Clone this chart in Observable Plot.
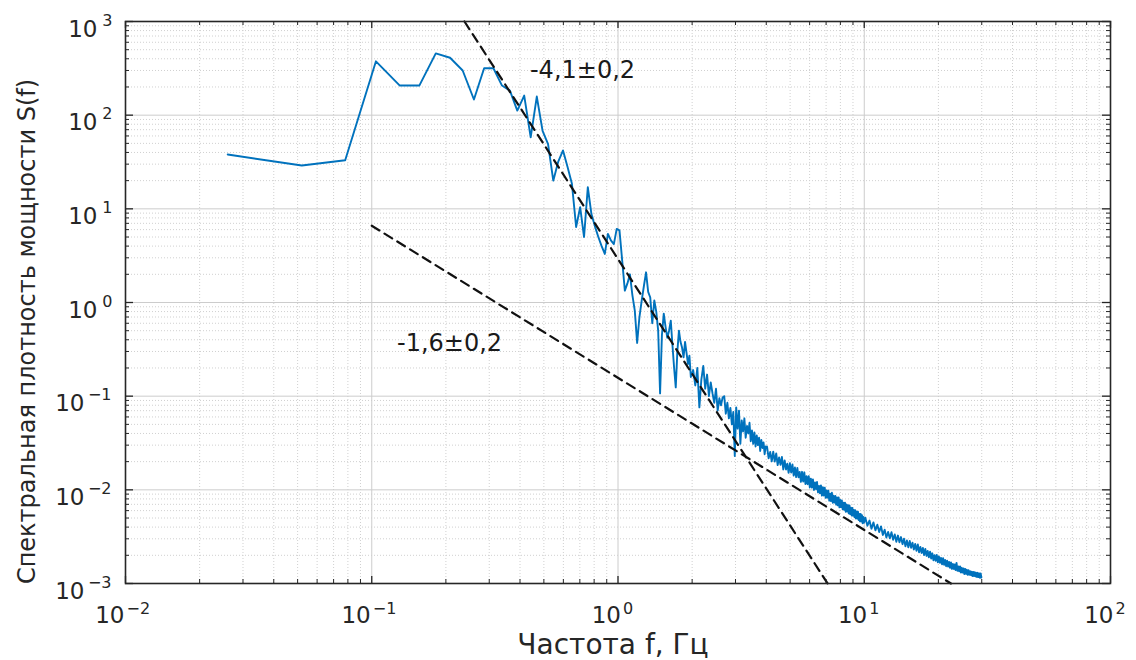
<!DOCTYPE html>
<html><head><meta charset="utf-8">
<script src="https://cdn.jsdelivr.net/npm/d3@7"></script>
<script src="https://cdn.jsdelivr.net/npm/@observablehq/plot@0.6"></script>
<style>
body{margin:0;background:#fff;}
#chart{position:absolute;left:0;top:0;}
</style></head><body><div id="chart"></div>
<script>
// ---- data (frequency, Hz) ----
const freq = [
0.026,0.052,0.078,0.104,0.130,0.156,0.182,0.208,0.234,0.260,0.286,0.312,
0.338,0.364,0.390,0.416,0.442,0.468,0.494,0.520,0.546,0.572,0.598,0.624,0.650,0.676,0.702,0.728,0.754,0.780,0.806,0.832,0.858,0.884,0.910,0.936,0.962,0.988,1.014,1.040,
1.066,1.092,1.118,1.144,1.170,1.196,1.222,1.248,1.274,1.300,1.326,1.352,1.378,1.404,1.430,1.456,1.482,1.508,1.534,1.560,1.586,1.612,1.638,1.664,1.690,1.716,1.742,1.768,1.794,1.820,1.846,1.872,1.898,1.924,1.950,1.976,
2.02,2.06,2.10,2.14,2.18,2.22,2.26,2.30,2.34,2.38,2.42,2.46,2.50,2.54,2.58,2.62,2.66,2.70,2.74,2.78,2.82,2.86,2.90,2.94,2.98,3.02,3.06,3.10,3.14,3.18,3.22,3.26,3.30,3.34,3.38,3.42,3.46,3.50,3.54,3.58,3.62,3.66,3.70,3.74,3.78,3.82,3.86,3.90,3.94,3.98,
4.03,4.09,4.15,4.21,4.27,4.33,4.39,4.45,4.51,4.57,4.63,4.69,4.75,4.81,4.87,4.93,4.99,5.05,5.11,5.17,
5.23,5.29,5.35,5.41,5.47,5.53,5.59,5.65,5.71,5.77,5.83,5.89,5.95,6.01,6.07,6.13,6.19,6.25,6.31,6.37,
6.43,6.49,6.55,6.61,6.67,6.73,6.79,6.85,6.91,6.97,7.03,7.09,7.15,7.21,7.27,7.33,7.39,7.45,7.51,7.57,
7.63,7.69,7.75,7.81,7.87,7.93,7.99,8.05,8.11,8.17,8.23,8.29,8.35,8.41,8.47,8.53,8.59,8.65,8.71,8.77,
8.83,8.89,8.95,9.01,9.07,9.13,9.19,9.25,9.31,9.37,9.43,9.49,9.55,9.61,9.67,9.73,9.79,9.85,9.91,9.97,
10.1,10.3,10.5,10.7,10.9,11.1,11.3,11.5,11.7,11.9,12.1,12.3,12.5,12.7,12.9,13.1,13.3,13.5,13.7,13.9,
14.1,14.3,14.5,14.7,14.9,15.1,15.3,15.5,15.7,15.9,16.1,16.3,16.5,16.7,16.9,17.1,17.3,17.5,17.7,17.9,
18.1,18.3,18.5,18.7,18.9,19.1,19.3,19.5,19.7,19.9,20.1,20.3,20.5,20.7,20.9,21.1,21.3,21.5,21.7,21.9,
22.1,22.3,22.5,22.7,22.9,23.1,23.3,23.5,23.7,23.9,24.1,24.3,24.5,24.7,24.9,25.1,25.3,25.5,25.7,25.9,
26.1,26.3,26.5,26.7,26.9,27.1,27.3,27.5,27.7,27.9,28.1,28.3,28.5,28.7,28.9,29.1,29.3,29.5,29.7,29.9
];
// ---- data (power spectral density S(f)) ----
const psd = [
38,29,33,376,207,207,457,410,300,147,317,317,
207,183,112,162,58,158,68,49,20,32,42,28,18.5,6.4,10.4,5.0,17,8.8,6.5,5.0,4.0,3.3,5.4,4.6,4.2,6.1,5.9,2.8,
1.34,1.6,2.0,1.2,0.82,0.37,0.7,1.05,1.5,2.1,1.3,1.13,0.6,1.05,0.8,0.5,0.107,0.45,0.76,0.55,0.42,0.5,0.64,0.35,0.2,0.124,0.3,0.5,0.38,0.33,0.26,0.38,0.29,0.22,0.27,0.16,
0.19,0.13,0.20,0.076,0.15,0.21,0.12,0.17,0.10,0.14,0.107,0.085,0.12,0.07,0.095,0.08,0.097,0.10,0.065,0.085,0.058,0.075,0.05,0.068,0.023,0.076,0.045,0.07,0.031,0.055,0.042,0.058,0.036,0.048,0.04,0.052,0.033,0.043,0.031,0.041,0.029,0.038,0.03,0.036,0.026,0.034,0.028,0.032,0.024,0.029,
0.0288,0.0217,0.0254,0.0201,0.0255,0.0200,0.0245,0.0184,0.0222,0.0185,0.0225,0.0165,0.0206,0.0165,0.0190,0.0152,0.0192,0.0153,0.0187,0.0142,
0.0173,0.0137,0.0171,0.0136,0.0155,0.01218,0.01557,0.01227,0.01538,0.01154,0.01401,0.01148,0.01401,0.01059,0.01315,0.01055,0.0129,0.00996,0.01202,0.01016,
0.01212,0.0094,0.01101,0.00919,0.01114,0.00869,0.01069,0.0087,0.01054,0.00823,0.00983,0.00825,0.0098,0.00766,0.00907,0.00759,0.00931,0.00729,0.00863,0.00731,
0.00861,0.00695,0.00831,0.00683,0.0083,0.0065,0.00778,0.00654,0.00771,0.00622,0.00729,0.00612,0.0073,0.00583,0.00699,0.00587,0.00687,0.0056,0.00682,0.00551,
0.00646,0.00532,0.00642,0.00531,0.0061,0.00512,0.00606,0.00495,0.00586,0.00494,0.00583,0.00477,0.00554,0.00461,0.00552,0.0046,0.00535,0.0044,0.00513,0.00445,
0.00504,0.00414,0.0047,0.00385,0.00449,0.00369,0.00424,0.00355,0.00407,0.0033,0.00375,0.0031,0.00355,0.00304,0.00353,0.00293,0.00334,0.00279,0.00325,0.00275,
0.00313,0.00263,0.00301,0.00249,0.00288,0.00244,0.00285,0.00241,0.00273,0.00231,0.00264,0.00224,0.00261,0.00215,0.00246,0.00212,0.0024,0.00201,0.00234,0.00197,
0.00223,0.0019,0.00219,0.00185,0.0021,0.00177,0.00201,0.00175,0.00202,0.00168,0.00194,0.00166,0.00188,0.0016,0.00186,0.00158,0.00178,0.00153,0.00175,0.00152,
0.0017,0.00147,0.00168,0.00143,0.00162,0.00143,0.0016,0.00139,0.00166,0.00137,0.00152,0.00135,0.00152,0.00131,0.00147,0.00131,0.00145,0.00126,0.00143,0.00127,
0.0014,0.00124,0.00139,0.00124,0.00135,0.00123,0.00134,0.0012,0.00133,0.0012,0.00132,0.00119,0.0013,0.00117,0.0013,0.00117,0.00128,0.00115,0.00128,0.00116
];
// ---- fitted power laws (end points) ----
const fitSteepF = [0.238, 7.1];
const fitSteepS = [1000, 0.001];
const fitShallowF = [0.1, 22.5];
const fitShallowS = [6.6, 0.001];
// ---- annotations ----
const annoF = [0.439, 0.1266];
const annoS = [300, 0.37];
const annoText = ["-4,1±0,2", "-1,6±0,2"];
// ---- axes ----
const xDecades = [0.01, 0.1, 1, 10, 100];
const yDecades = [0.001, 0.01, 0.1, 1, 10, 100, 1000];
const minorMult = [2, 3, 4, 5, 6, 7, 8, 9];
const xLabel = "Частота f, Гц";
const yLabel = "Спектральная плотность мощности S(f)";

const W = 1136, H = 660, mL = 125, mR = 26, mT = 21, mB = 77;
const innerW = W - mL - mR, innerH = H - mT - mB;
const ink = "#262626";
const font = "'DejaVu Sans', sans-serif";

const minorX = xDecades.slice(0, -1).flatMap(d => minorMult.map(m => d * m));
const minorY = yDecades.slice(0, -1).flatMap(d => minorMult.map(m => d * m));
const spectrum = freq.map((f, i) => ({f, s: psd[i]}));
const steep = fitSteepF.map((f, i) => ({f, s: fitSteepS[i]}));
const shallow = fitShallowF.map((f, i) => ({f, s: fitShallowS[i]}));
const annos = annoF.map((f, i) => ({f, s: annoS[i], label: annoText[i]}));
const expo = d => { const e = Math.round(Math.log10(d)); return e < 0 ? "\u2212" + (-e) : String(e); };
const neg = a => a.filter(d => d < 1), pos = a => a.filter(d => d >= 1);

const chart = Plot.plot({
  width: W, height: H, marginLeft: mL, marginRight: mR, marginTop: mT, marginBottom: mB,
  x: {type: "log", domain: [0.01, 100], axis: null},
  y: {type: "log", domain: [0.001, 1000], axis: null},
  style: {fontFamily: font, background: "#fff", color: ink},
  marks: [
    Plot.ruleX(minorX, {x: d => d, stroke: "#d0d0d0", strokeDasharray: "1,2"}),
    Plot.ruleY(minorY, {y: d => d, stroke: "#d0d0d0", strokeDasharray: "1,2"}),
    Plot.ruleX(xDecades, {x: d => d, stroke: "#cccccc"}),
    Plot.ruleY(yDecades, {y: d => d, stroke: "#cccccc"}),
    Plot.line(spectrum, {x: "f", y: "s", stroke: "#0072BD", strokeWidth: 1.9}),
    Plot.line(steep, {x: "f", y: "s", stroke: "#111", strokeWidth: 2.2, strokeDasharray: "9,6"}),
    Plot.line(shallow, {x: "f", y: "s", stroke: "#111", strokeWidth: 2.2, strokeDasharray: "9,6"}),
    Plot.frame({stroke: ink, strokeWidth: 1.6}),
    // inward ticks on all four sides
    Plot.ruleX(xDecades, {x: d => d, insetTop: innerH - 7, stroke: ink, strokeWidth: 1.3}),
    Plot.ruleX(xDecades, {x: d => d, insetBottom: innerH - 7, stroke: ink, strokeWidth: 1.3}),
    Plot.ruleX(minorX, {x: d => d, insetTop: innerH - 4, stroke: ink}),
    Plot.ruleX(minorX, {x: d => d, insetBottom: innerH - 4, stroke: ink}),
    Plot.ruleY(yDecades, {y: d => d, insetRight: innerW - 8, stroke: ink, strokeWidth: 1.3}),
    Plot.ruleY(yDecades, {y: d => d, insetLeft: innerW - 8, stroke: ink, strokeWidth: 1.3}),
    Plot.ruleY(minorY, {y: d => d, insetRight: innerW - 4, stroke: ink}),
    Plot.ruleY(minorY, {y: d => d, insetLeft: innerW - 4, stroke: ink}),
    // x tick labels 10^n
    Plot.text(neg(xDecades), {x: d => d, frameAnchor: "bottom", text: () => "10", textAnchor: "end", lineAnchor: "bottom", dx: -1, dy: 39, fontSize: 23, fill: ink}),
    Plot.text(neg(xDecades), {x: d => d, frameAnchor: "bottom", text: expo, textAnchor: "start", lineAnchor: "bottom", dx: 1, dy: 30, fontSize: 16, fill: ink}),
    Plot.text(pos(xDecades), {x: d => d, frameAnchor: "bottom", text: () => "10", textAnchor: "end", lineAnchor: "bottom", dx: 3, dy: 39, fontSize: 23, fill: ink}),
    Plot.text(pos(xDecades), {x: d => d, frameAnchor: "bottom", text: expo, textAnchor: "start", lineAnchor: "bottom", dx: 5, dy: 30, fontSize: 16, fill: ink}),
    // y tick labels 10^n
    Plot.text(neg(yDecades), {y: d => d, frameAnchor: "left", text: () => "10", textAnchor: "end", lineAnchor: "bottom", dx: -41, dy: 15, fontSize: 23, fill: ink}),
    Plot.text(neg(yDecades), {y: d => d, frameAnchor: "left", text: expo, textAnchor: "end", lineAnchor: "bottom", dx: -14, dy: 4, fontSize: 16, fill: ink}),
    Plot.text(pos(yDecades), {y: d => d, frameAnchor: "left", text: () => "10", textAnchor: "end", lineAnchor: "bottom", dx: -28, dy: 15, fontSize: 23, fill: ink}),
    Plot.text(pos(yDecades), {y: d => d, frameAnchor: "left", text: expo, textAnchor: "end", lineAnchor: "bottom", dx: -13, dy: 4, fontSize: 16, fill: ink}),
    // annotations
    Plot.text(annos, {x: "f", y: "s", text: "label", textAnchor: "start", fontSize: 24, fill: "#1a1a1a"}),
    // axis titles
    Plot.text([xLabel], {frameAnchor: "bottom", text: d => d, textAnchor: "middle", lineAnchor: "bottom", dx: -5, dy: 70, fontSize: 28, fill: ink}),
    Plot.text([yLabel], {frameAnchor: "left", text: d => d, textAnchor: "middle", lineAnchor: "middle", rotate: -90, dx: -98, dy: 29, fontSize: 24, fill: ink})
  ]
});
document.getElementById("chart").append(chart);
</script></body></html>
